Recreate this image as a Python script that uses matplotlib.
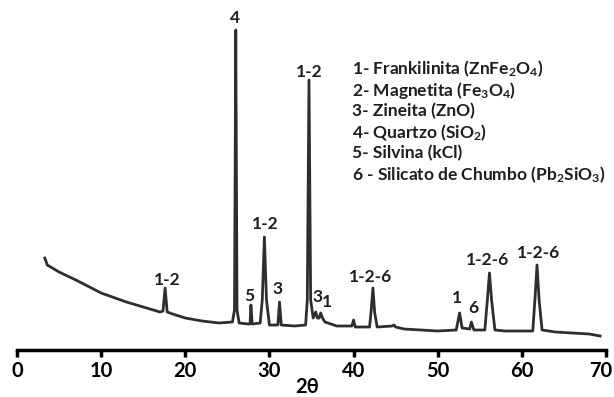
import matplotlib
matplotlib.use("Agg")
import matplotlib.pyplot as plt
from matplotlib.transforms import ScaledTranslation

plt.rcParams['font.family'] = ['Lato', 'DejaVu Sans']
plt.rcParams['mathtext.default'] = 'regular'

# 2theta (deg) and intensity (arbitrary units)
two_theta = [3.3, 3.6, 5, 7, 10, 13, 15, 17, 17.35, 17.6, 17.85, 18.5, 20, 22, 24,
             25.6, 25.85, 26.0, 26.15, 26.4, 27.5, 27.7, 27.8, 27.95, 28.9, 29.15, 29.4,
             29.65, 30.0, 31.0, 31.2, 31.4, 33, 34.3, 34.5, 34.7, 34.9, 35.2, 35.5,
             35.7, 35.9, 36.1, 36.3, 36.6, 38, 39.8, 40.0, 40.2, 41.9, 42.1, 42.3,
             42.5, 42.8, 44.6, 44.8, 45.0, 46, 48, 50, 52.2, 52.6, 52.9, 53.8, 54.0,
             54.3, 55.6, 55.9, 56.15, 56.4, 56.8, 58, 61.3, 61.55, 61.8, 62.05, 62.4,
             64, 66, 68, 69.3]
intensity = [92, 85, 78, 70, 57, 48, 43, 38, 39, 62, 38, 36, 32, 29, 27,
             28, 40, 320, 40, 27, 26, 26, 45, 26, 27, 50, 113,
             50, 25, 25, 48, 25, 24, 25, 50, 270, 50, 32, 38,
             32, 32, 37, 32, 28, 24, 24, 30, 23, 23, 40, 62,
             38, 23, 24, 25, 23, 21, 20, 19, 20, 37, 22, 21, 28,
             20, 20, 50, 77, 50, 20, 19, 19, 50, 85, 50, 20,
             18, 17, 16, 14]

peak_labels = ["4", "1-2", "1-2", "1-2", "5", "3", "3", "1", "1-2-6", "1", "6", "1-2-6", "1-2-6"]
label_x = [25.9, 34.7, 29.5, 17.9, 27.6, 31.0, 35.7, 36.8, 42.0, 52.3, 54.2, 55.9, 62.0]
label_y = [332, 278, 126, 70, 54, 61, 53, 48, 73, 52, 42, 90, 97]

legend_lines = ["1- Frankilinita (ZnFe$_2$O$_4$)",
                "2- Magnetita (Fe$_3$O$_4$)",
                "3- Zineita (ZnO)",
                "4- Quartzo (SiO$_2$)",
                "5- Silvina (kCl)",
                "6 - Silicato de Chumbo (Pb$_2$SiO$_3$)"]

fig = plt.figure(figsize=(6.14, 3.97), dpi=100)
ax = fig.add_axes([17 / 614, 47 / 397, 589 / 614, 350 / 397])
ax.plot(two_theta, intensity, color='#2e2e2e', lw=2.0)

ax.set_xlim(0, 70)
ax.set_ylim(0, 350)
for s in ['top', 'left', 'right']:
    ax.spines[s].set_visible(False)
ax.spines['bottom'].set_linewidth(2.5)
ax.set_yticks([])
ax.set_xticks(range(0, 71, 10))
ax.tick_params(axis='x', direction='out', length=5, width=2.5, pad=3,
               labelsize=14.5)
for lbl in ax.get_xticklabels():
    lbl.set_fontweight('bold')
# last label sits right at the edge, pull it in a little
last = ax.get_xticklabels()[-1]
last.set_transform(last.get_transform() + ScaledTranslation(-0.05, 0, fig.dpi_scale_trans))

ax.set_xlabel('2θ', fontsize=14.5, fontweight='bold',
              family=['Lato', 'DejaVu Serif'])
ax.xaxis.set_label_coords(0.492, -0.078)

for t, x, y in zip(peak_labels, label_x, label_y):
    ax.text(x, y, t, ha='center', va='center', fontsize=12.5, fontweight='bold',
            color='#1e1e1e')

for i, t in enumerate(legend_lines):
    ax.text((352 - 17) / 8.414, 350 - (69 + 21.1 * i), t, ha='left', va='center',
            fontsize=12.5, fontweight='bold', color='#1e1e1e')

fig.savefig('out.png', dpi=100)
